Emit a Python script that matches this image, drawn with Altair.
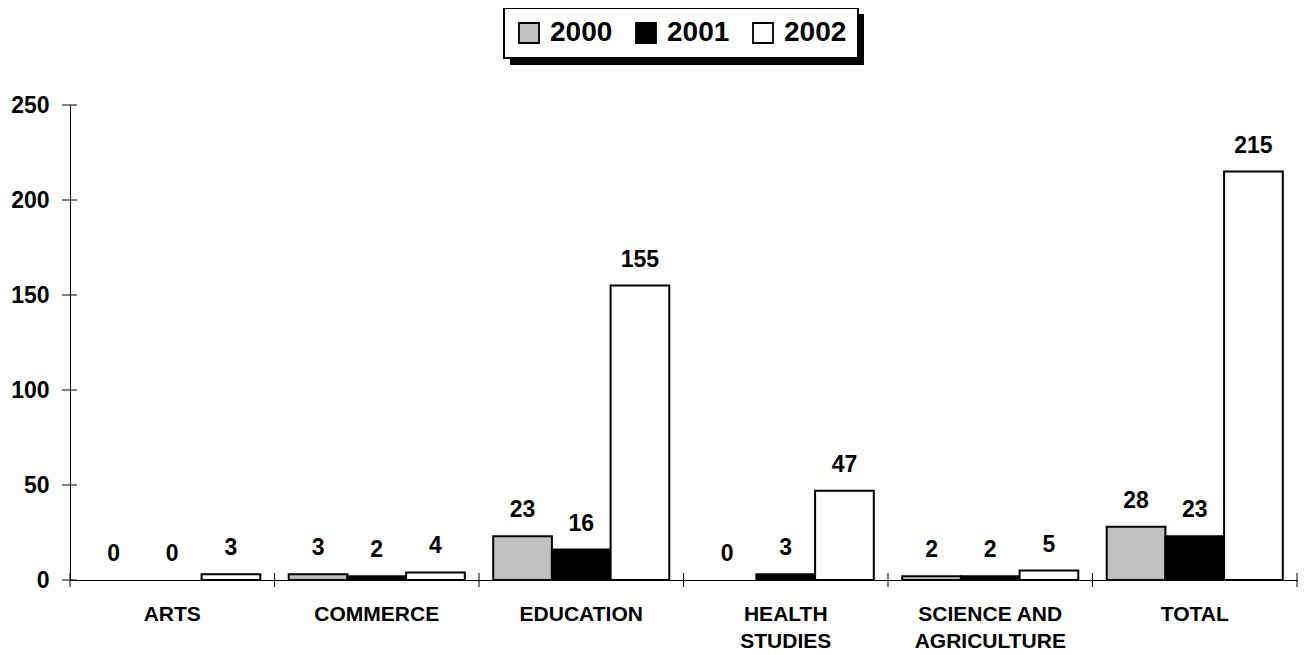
import altair as alt
import pandas as pd

categories = ["ARTS", "COMMERCE", "EDUCATION", "HEALTH STUDIES",
              "SCIENCE AND AGRICULTURE", "TOTAL"]
years = ["2000", "2001", "2002"]
v2000 = [0, 3, 23, 0, 2, 28]
v2001 = [0, 2, 16, 3, 2, 23]
v2002 = [3, 4, 155, 47, 5, 215]
y_ticks = [0, 50, 100, 150, 200, 250]
colors = ["#c0c0c0", "#000000", "#ffffff"]

rows = []
for yr, vals in zip(years, [v2000, v2001, v2002]):
    for c, v in zip(categories, vals):
        rows.append({"cat": c, "year": yr, "value": v})
df = pd.DataFrame(rows)

W, H = 1227, 475
FONT = "Liberation Sans"

x_enc = alt.X("cat:N", sort=categories,
              scale=alt.Scale(paddingInner=0, paddingOuter=0),
              axis=alt.Axis(title=None, ticks=False, domain=True, domainColor="black",
                            labelFont=FONT, labelFontWeight="bold", labelFontSize=21,
                            labelColor="black", labelAngle=0, labelBaseline="top",
                            labelPadding=23, labelLineHeight=27,
                            labelExpr="datum.label == 'HEALTH STUDIES' ? ['HEALTH','STUDIES'] : datum.label == 'SCIENCE AND AGRICULTURE' ? ['SCIENCE AND','AGRICULTURE'] : datum.label"))
y_scale = alt.Scale(domain=[0, 250], nice=False)
y_enc = alt.Y("value:Q", scale=y_scale,
              axis=alt.Axis(title=None, values=y_ticks, ticks=False, grid=False,
                            domainColor="black", labelFont=FONT, labelFontWeight="bold",
                            labelFontSize=23, labelColor="black", labelPadding=21))
xo_enc = alt.XOffset("year:N", sort=years,
                     scale=alt.Scale(paddingInner=0, paddingOuter=0.242))
color_enc = alt.Color("year:N", sort=years,
                      scale=alt.Scale(domain=years, range=colors),
                      legend=alt.Legend(title=None, orient="none", legendX=434, legendY=-97,
                                        direction="horizontal", strokeColor="black",
                                        fillColor="white", padding=11,
                                        symbolType="square", symbolSize=400,
                                        symbolStrokeColor="black", symbolStrokeWidth=1.8,
                                        symbolOpacity=1,
                                        labelFont=FONT, labelFontWeight="bold",
                                        labelFontSize=28, labelColor="black",
                                        labelOffset=7, columnPadding=19))

base = alt.Chart(df)

shadow = alt.Chart(alt.Data(values=[{}])).mark_rect(color="black").encode(
    x=alt.value(440), x2=alt.value(794), y=alt.value(-91), y2=alt.value(-40))

bars = base.mark_bar(stroke="black", strokeWidth=2, opacity=1).encode(
    x=x_enc, xOffset=xo_enc, y=y_enc, color=color_enc
).transform_filter("datum.value > 0")

labels = base.mark_text(font=FONT, fontWeight="bold", fontSize=23, color="black",
                        baseline="alphabetic", dy=-19).encode(
    x=alt.X("cat:N", sort=categories), xOffset=alt.XOffset("year:N", sort=years),
    y=alt.Y("value:Q"), text=alt.Text("value:Q"))

ytick_df = pd.DataFrame({"value": y_ticks})
yticks = alt.Chart(ytick_df).mark_rule(color="black", strokeWidth=1).encode(
    y=alt.Y("value:Q"), x=alt.value(-8), x2=alt.value(7))

cat_df = pd.DataFrame({"cat": categories})
xticks = alt.Chart(cat_df).mark_rule(color="black", strokeWidth=1).encode(
    x=alt.X("cat:N", sort=categories, bandPosition=0),
    y=alt.value(H - 7), y2=alt.value(H + 7))
xend = alt.Chart(alt.Data(values=[{}])).mark_rule(color="black", strokeWidth=1).encode(
    x=alt.value(W), y=alt.value(H - 7), y2=alt.value(H + 7))

chart = alt.layer(shadow, bars, labels, yticks, xticks, xend).properties(
    width=W, height=H,
    background="white",
    autosize=alt.AutoSizeParams(type="none"),
    padding={"left": 62, "top": 97, "right": 3, "bottom": 75},
).configure_view(stroke=None).configure_legend(strokeWidth=2)

chart.save("out.html", embed_options={"renderer": "svg", "actions": False})
